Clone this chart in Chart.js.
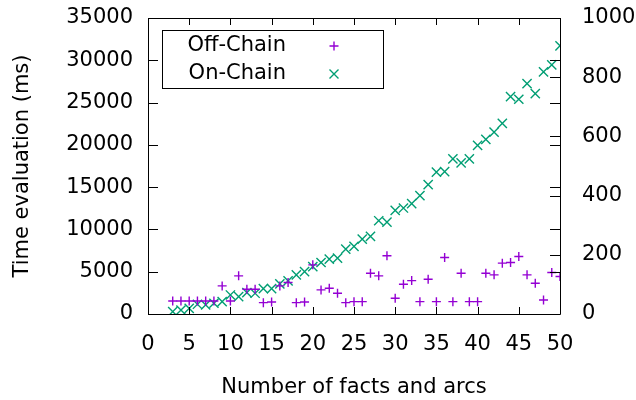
<!DOCTYPE html>
<html>
<head>
<meta charset="utf-8">
<script src="https://cdn.jsdelivr.net/npm/chart.js@4"></script>
<style>
  html, body { margin: 0; padding: 0; background: #fff; }
  #wrap { width: 636px; height: 400px; }
</style>
</head>
<body>
<div id="wrap"><canvas id="myChart"></canvas></div>
<script>
const facts = [3, 4, 5, 6, 7, 8, 9, 10, 11, 12, 13, 14, 15, 16, 17, 18, 19, 20, 21, 22, 23, 24, 25, 26,
  27, 28, 29, 30, 31, 32, 33, 34, 35, 36, 37, 38, 39, 40, 41, 42, 43, 44, 45, 46, 47, 48, 49, 50];

const offChain = [1540, 1540, 1540, 1540, 1540, 1540, 3320, 1540, 4510, 2930, 2930, 1340, 1420, 3320,
  3720, 1340, 1420, 5810, 2850, 3050, 2450, 1340, 1460, 1460, 4820, 4510, 6880, 1860, 3520, 3950,
  1460, 4110, 1460, 6680, 1460, 4820, 1460, 1460, 4820, 4630, 6010, 6090, 6800, 4630, 3640, 1660,
  4900, 4430];

const onChain = [280, 470, 670, 1150, 1070, 1270, 1460, 2250, 2060, 2530, 2450, 3000, 3000, 3560,
  3910, 4630, 5020, 5610, 6090, 6480, 6600, 7670, 7990, 8860, 9170, 11030, 10870, 12260, 12530,
  13050, 14000, 15300, 16770, 16840, 18350, 17870, 18350, 19930, 20640, 21510, 22540, 25700,
  25390, 27240, 26060, 28630, 29460, 31710];

const xTicks = [0, 5, 10, 15, 20, 25, 30, 35, 40, 45, 50];

const FONT = "'DejaVu Sans', sans-serif";
const FSIZE = 21;

function points(ys) {
  return facts.map((x, i) => ({ x: x, y: ys[i] }));
}

// gnuplot style frame with inward ticks on all sides
const frame = {
  id: "frame",
  afterDraw(chart) {
    const { ctx, chartArea: a, scales } = chart;
    ctx.save();
    ctx.strokeStyle = "#000";
    ctx.lineWidth = 1;
    ctx.beginPath();
    ctx.rect(Math.round(a.left) + 0.5, Math.round(a.top) + 0.5,
      Math.round(a.right - a.left), Math.round(a.bottom - a.top));
    scales.x.ticks.forEach((t) => {
      const px = Math.round(scales.x.getPixelForValue(t.value)) + 0.5;
      ctx.moveTo(px, a.bottom); ctx.lineTo(px, a.bottom - 7);
      ctx.moveTo(px, a.top); ctx.lineTo(px, a.top + 7);
    });
    scales.y.ticks.forEach((t) => {
      const py = Math.round(scales.y.getPixelForValue(t.value)) + 0.5;
      ctx.moveTo(a.left, py); ctx.lineTo(a.left + 10, py);
      ctx.moveTo(a.right, py); ctx.lineTo(a.right - 10, py);
    });
    scales.y2.ticks.forEach((t) => {
      const py = Math.round(scales.y2.getPixelForValue(t.value)) + 0.5;
      ctx.moveTo(a.right, py); ctx.lineTo(a.right - 10, py);
    });
    ctx.stroke();
    ctx.restore();
  },
};

// legend box inside the plot, text right aligned and marker on the right
const keyBox = {
  id: "keyBox",
  afterDraw(chart) {
    const ctx = chart.ctx;
    const a = chart.chartArea;
    const left = Math.round(a.left) + 14, top = Math.round(a.top) + 12, w = 221, h = 58;
    ctx.save();
    ctx.fillStyle = "#fff";
    ctx.fillRect(left, top, w, h);
    ctx.strokeStyle = "#000";
    ctx.lineWidth = 1;
    ctx.strokeRect(left + 0.5, top + 0.5, w, h);
    ctx.font = FSIZE + "px " + FONT;
    ctx.textAlign = "right";
    ctx.textBaseline = "middle";
    chart.data.datasets.forEach((ds, i) => {
      const cy = top + 16 + i * 28;
      ctx.fillStyle = "#000";
      ctx.fillText(ds.label, left + 124, cy);
      const cx = left + 172;
      ctx.strokeStyle = ds.borderColor;
      ctx.lineWidth = 1.4;
      ctx.beginPath();
      if (ds.pointStyle === "cross") {
        ctx.moveTo(cx - 4.5, cy); ctx.lineTo(cx + 4.5, cy);
        ctx.moveTo(cx, cy - 4.5); ctx.lineTo(cx, cy + 4.5);
      } else {
        ctx.moveTo(cx - 4.5, cy - 4.5); ctx.lineTo(cx + 4.5, cy + 4.5);
        ctx.moveTo(cx + 4.5, cy - 4.5); ctx.lineTo(cx - 4.5, cy + 4.5);
      }
      ctx.stroke();
    });
    ctx.restore();
  },
};

const data = {
  datasets: [
    {
      label: "Off-Chain",
      data: points(offChain),
      pointStyle: "cross",
      pointRadius: 4.5,
      borderColor: "#9400d3",
      backgroundColor: "#9400d3",
      borderWidth: 1.4,
    },
    {
      label: "On-Chain",
      data: points(onChain),
      pointStyle: "crossRot",
      pointRadius: 6.5,
      borderColor: "#009e73",
      backgroundColor: "#009e73",
      borderWidth: 1.4,
    },
  ],
};

const plain = (v) => String(v);

const fitV = (w) => (s) => { s.width = w; s.paddingTop = 0; s.paddingBottom = 0; };

const config = {
  type: "scatter",
  data: data,
  options: {
    responsive: true,
    maintainAspectRatio: false,
    animation: false,
    layout: { padding: { top: 18, left: 0, right: 0, bottom: 0 } },
    plugins: {
      legend: { display: false },
      tooltip: { enabled: false },
    },
    scales: {
      x: {
        type: "linear",
        min: 0,
        max: 50,
        afterBuildTicks: (s) => { s.ticks = xTicks.map((v) => ({ value: v })); },
        afterFit: (s) => { s.height = 86; s.paddingLeft = 0; s.paddingRight = 0; },
        grid: { display: false, drawTicks: false },
        border: { display: false },
        ticks: { color: "#000", padding: 18, font: { family: FONT, size: FSIZE }, maxRotation: 0, callback: plain },
        title: {
          display: true,
          text: "Number of facts and arcs",
          color: "#000",
          font: { family: FONT, size: FSIZE },
          padding: { top: 0, bottom: 0 },
        },
      },
      y: {
        min: 0,
        max: 35000,
        position: "left",
        afterFit: fitV(148),
        grid: { display: false, drawTicks: false },
        border: { display: false },
        ticks: { stepSize: 5000, color: "#000", padding: 15, font: { family: FONT, size: FSIZE }, callback: plain },
        title: {
          display: true,
          text: "Time evaluation (ms)",
          color: "#000",
          font: { family: FONT, size: FSIZE },
          padding: { top: 10, bottom: 0 },
        },
      },
      y2: {
        min: 0,
        max: 1000,
        position: "right",
        afterFit: fitV(76),
        grid: { display: false, drawTicks: false },
        border: { display: false },
        ticks: { stepSize: 200, color: "#000", padding: 22, font: { family: FONT, size: FSIZE }, callback: plain },
      },
    },
  },
  plugins: [frame, keyBox],
};

const myChart = new Chart(document.getElementById("myChart"), config);
</script>
</body>
</html>
